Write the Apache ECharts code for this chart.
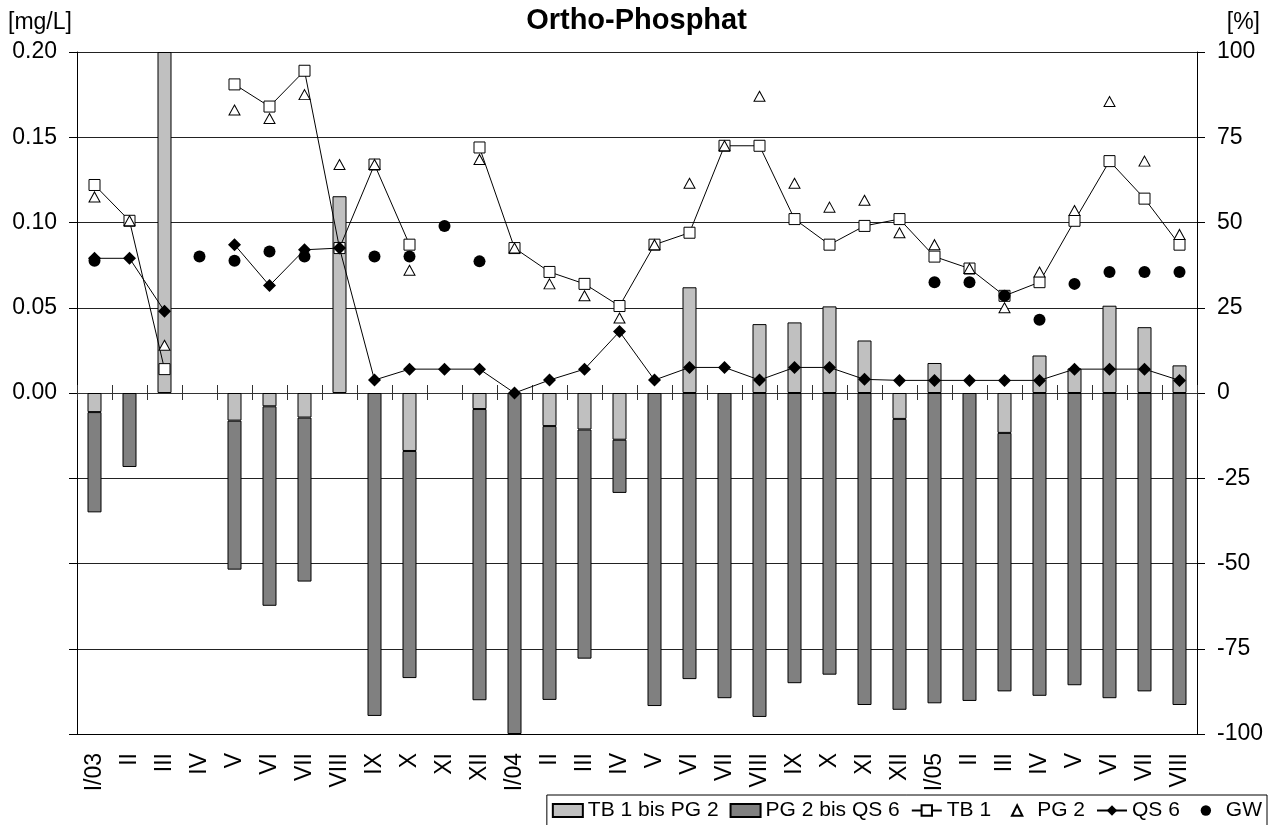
<!DOCTYPE html>
<html><head><meta charset="utf-8">
<script src="https://cdn.jsdelivr.net/npm/echarts@6/dist/echarts.min.js"></script>
<style>html,body{margin:0;padding:0;background:#fff}#c{width:1273px;height:825px}</style>
</head><body><div id="c"></div>
<script>
// Categories (months)
const categories = ['I/03','II','III','IV','V','VI','VII','VIII','IX','X','XI','XII',
  'I/04','II','III','IV','V','VI','VII','VIII','IX','X','XI','XII',
  'I/05','II','III','IV','V','VI','VII','VIII'];

// Bars, right axis [%]
const tb1BisPg2 = [-5.6, null, 100, null, -8.1, -3.9, -7.2, 57.7, null, -17.0, null, -4.7,
  null, -9.7, -10.7, -13.7, null, 31.0, null, 20.2, 20.7, 25.4, 15.4, -7.6,
  8.8, null, -11.7, 11.0, 7.2, 25.6, 19.3, 8.1];
const pg2BisQs6 = [-29.4, -21.7, null, null, -43.7, -58.5, -48.1, null, -94.7, -66.6, null, -85.4,
  -100, -80.3, -67.2, -15.6, -91.8, -83.9, -89.5, -95.0, -85.1, -82.6, -91.5, -85.3,
  -91.0, -90.3, -75.8, -88.8, -85.7, -89.5, -87.5, -91.5];

// Concentrations, left axis [mg/L]
const tb1 = [0.122, 0.101, 0.014, null, 0.181, 0.168, 0.189, 0.085, 0.134, 0.087, null, 0.144,
  0.085, 0.071, 0.064, 0.051, 0.087, 0.094, 0.145, 0.145, 0.102, 0.087, 0.098, 0.102,
  0.080, 0.073, 0.057, 0.065, 0.101, 0.136, 0.114, 0.087];
const pg2 = [0.115, 0.101, 0.028, null, 0.166, 0.161, 0.175, 0.134, 0.134, 0.072, null, 0.137,
  0.085, 0.064, 0.057, 0.044, 0.087, 0.123, 0.145, 0.174, 0.123, 0.109, 0.113, 0.094,
  0.087, 0.073, 0.050, 0.071, 0.107, 0.171, 0.136, 0.093];
const qs6 = [0.079, 0.079, 0.048, null, 0.087, 0.063, 0.084, 0.085, 0.0076, 0.014, 0.014, 0.014,
  0.000, 0.0076, 0.014, 0.036, 0.0076, 0.015, 0.015, 0.0076, 0.015, 0.015, 0.008, 0.0074,
  0.0074, 0.0074, 0.0074, 0.0074, 0.014, 0.014, 0.014, 0.0074];
const gw = [0.0775, null, null, 0.080, 0.0775, 0.083, 0.080, null, 0.080, 0.080, 0.098, 0.0772,
  null, null, null, null, null, null, null, null, null, null, null, null,
  0.065, 0.065, 0.057, 0.043, 0.064, 0.071, 0.071, 0.071];

const F = '"Liberation Sans", Arial, sans-serif';
const chart = echarts.init(document.getElementById('c'), null, {renderer: 'canvas'});
const txt = {fontFamily: F, color: '#000'};

const option = {
  animation: false,
  backgroundColor: '#fff',
  title: [
    {text: 'Ortho-Phosphat', left: 'center', top: 1,
     textStyle: Object.assign({}, txt, {fontSize: 29, fontWeight: 'bold'})},
    {text: '[mg/L]', left: 3, top: 6,
     textStyle: Object.assign({}, txt, {fontSize: 23, fontWeight: 'normal'})},
    {text: '[%]', right: 8, top: 6,
     textStyle: Object.assign({}, txt, {fontSize: 23, fontWeight: 'normal'})}
  ],
  legend: {
    data: [
      {name: 'TB 1 bis PG 2', icon: 'rect'},
      {name: 'PG 2 bis QS 6', icon: 'rect'},
      'TB 1', 'PG 2', 'QS 6', 'GW'],
    right: 6, top: 795,
    padding: [5, 5, 10, 5],
    itemGap: 11, itemWidth: 30, itemHeight: 13,
    borderColor: '#000', borderWidth: 1, borderRadius: 0,
    backgroundColor: '#fff',
    textStyle: Object.assign({}, txt, {fontSize: 21})
  },
  grid: {left: 77, right: 76, top: 52, bottom: 91},
  xAxis: [
    {type: 'category', data: categories, position: 'bottom',
     axisLine: {onZero: false, lineStyle: {color: '#000', width: 1}},
     axisTick: {show: false},
     axisLabel: Object.assign({}, txt, {rotate: 90, margin: 19, fontSize: 23, interval: 0}),
     splitLine: {show: false}},
    {type: 'category', data: categories, position: 'bottom',
     axisLine: {onZero: true, lineStyle: {color: '#333', width: 1}},
     axisTick: {show: true, inside: true, length: 8, interval: 0, lineStyle: {color: '#333'}},
     axisLabel: {show: false}, splitLine: {show: false}},
    {type: 'category', data: categories, position: 'bottom',
     axisLine: {onZero: true, lineStyle: {color: '#333', width: 1}},
     axisTick: {show: true, inside: false, length: 7, interval: 0, lineStyle: {color: '#333'}},
     axisLabel: {show: false}, splitLine: {show: false}}
  ],
  yAxis: [
    {type: 'value', position: 'left', min: -0.2, max: 0.2, interval: 0.05,
     axisLine: {show: true, lineStyle: {color: '#000'}},
     axisTick: {show: true, length: 8, lineStyle: {color: '#000'}},
     axisLabel: Object.assign({}, txt, {fontSize: 23, margin: 20,
       formatter: v => (v > -1e-9 ? v.toFixed(2) : '')}),
     splitLine: {show: true, lineStyle: {color: '#222', width: 1}}},
    {type: 'value', position: 'right', min: -100, max: 100, interval: 25,
     axisLine: {show: true, lineStyle: {color: '#000'}},
     axisTick: {show: true, length: 8, lineStyle: {color: '#000'}},
     axisLabel: Object.assign({}, txt, {fontSize: 23, margin: 20}),
     splitLine: {show: false}}
  ],
  series: [
    {name: 'TB 1 bis PG 2', type: 'bar', xAxisIndex: 0, yAxisIndex: 1, stack: 'diff',
     barWidth: 14, data: tb1BisPg2, clip: true,
     itemStyle: {color: '#C0C0C0', borderColor: '#000', borderWidth: 1}},
    {name: 'PG 2 bis QS 6', type: 'bar', xAxisIndex: 0, yAxisIndex: 1, stack: 'diff',
     barWidth: 14, data: pg2BisQs6, clip: true,
     itemStyle: {color: '#808080', borderColor: '#000', borderWidth: 1}},
    {name: 'TB 1', type: 'line', xAxisIndex: 0, yAxisIndex: 0, data: tb1,
     symbol: 'rect', symbolSize: 11, showAllSymbol: true, connectNulls: false,
     lineStyle: {color: '#000', width: 1},
     itemStyle: {color: '#fff', borderColor: '#000', borderWidth: 1, opacity: 1}},
    {name: 'PG 2', type: 'line', xAxisIndex: 0, yAxisIndex: 0, data: pg2,
     symbol: 'triangle', symbolSize: [11, 10], showAllSymbol: true,
     lineStyle: {width: 0, opacity: 0},
     itemStyle: {color: '#fff', borderColor: '#000', borderWidth: 1, opacity: 1}},
    {name: 'QS 6', type: 'line', xAxisIndex: 0, yAxisIndex: 0, data: qs6,
     symbol: 'diamond', symbolSize: 13, showAllSymbol: true, connectNulls: false,
     lineStyle: {color: '#000', width: 1},
     itemStyle: {color: '#000', borderColor: '#000', borderWidth: 0, opacity: 1}},
    {name: 'GW', type: 'line', xAxisIndex: 0, yAxisIndex: 0, data: gw,
     symbol: 'circle', symbolSize: 12, showAllSymbol: true,
     lineStyle: {width: 0, opacity: 0},
     itemStyle: {color: '#000', opacity: 1}}
  ]
};
chart.setOption(option);
</script>
</body></html>
